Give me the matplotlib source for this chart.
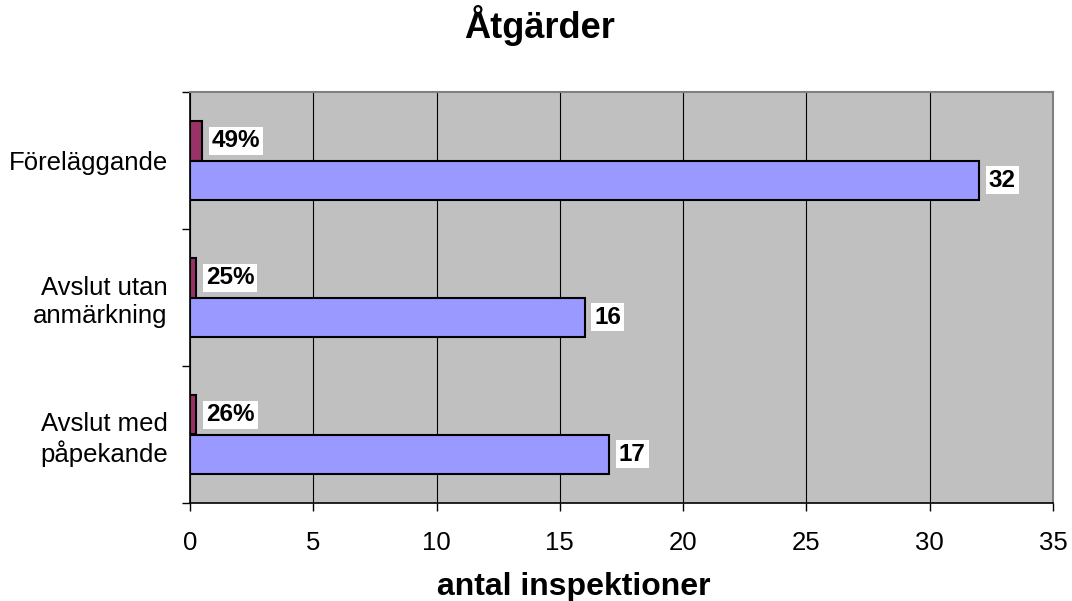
import numpy as np
import matplotlib
matplotlib.use("Agg")
import matplotlib.pyplot as plt

plt.rcParams['font.family'] = ['Liberation Sans', 'DejaVu Sans']

# data
categories = ['Föreläggande', 'Avslut utan\nanmärkning', 'Avslut med\npåpekande']
counts = [32, 16, 17]
shares = [0.49, 0.25, 0.26]   # drawn as fraction on the same axis
share_labels = ['49%', '25%', '26%']

bar_h = 0.285
blue = '#9999FF'
maroon = '#993366'

fig = plt.figure(figsize=(10.72, 6.01), dpi=100)
ax = fig.add_axes([190 / 1072, 1 - 503 / 601, 863 / 1072, 411 / 601])
ax.set_facecolor('#C0C0C0')

y = np.arange(len(categories))
ax.barh(y - bar_h / 2, shares, height=bar_h, color=maroon, edgecolor='black',
        linewidth=1.5, zorder=3)
ax.barh(y + bar_h / 2, counts, height=bar_h, color=blue, edgecolor='black',
        linewidth=1.5, zorder=3)

label_box = dict(boxstyle='square,pad=0.12', facecolor='white', edgecolor='none')
for i in range(len(categories)):
    ax.annotate(share_labels[i], (shares[i], y[i] - bar_h / 2), xytext=(7, 0),
                textcoords='offset points', va='center', ha='left',
                fontsize=17.5, fontweight='bold', bbox=label_box, zorder=4)
    ax.annotate(str(counts[i]), (counts[i], y[i] + bar_h / 2), xytext=(7, 0),
                textcoords='offset points', va='center', ha='left',
                fontsize=17.5, fontweight='bold', bbox=label_box, zorder=4)

ax.set_xlim(0, 35)
ax.set_ylim(len(categories) - 0.5, -0.5)
ax.set_xticks(np.arange(0, 36, 5))
ax.xaxis.grid(True, color='black', linewidth=0.8, zorder=1)
ax.tick_params(axis='x', direction='out', length=6, width=1, pad=14.5, labelsize=18.5)

# y ticks at category borders, labels at category centres
ax.set_yticks(np.arange(len(categories) + 1) - 0.5)
ax.set_yticklabels([])
ax.set_yticks(y, minor=True)
ax.set_yticklabels(categories, minor=True, fontsize=18.5, ha='right', multialignment='right')
ax.tick_params(axis='y', which='major', direction='out', length=6, width=1)
ax.tick_params(axis='y', which='minor', length=0, pad=16)

for s in ['top', 'right']:
    ax.spines[s].set_color('#808080')
    ax.spines[s].set_linewidth(1.5)
for s in ['left', 'bottom']:
    ax.spines[s].set_color('black')
    ax.spines[s].set_linewidth(1.2)

fig.text(540 / 1072, 1 - 38 / 601, 'Åtgärder', ha='center', va='baseline',
         fontsize=26, fontweight='bold')
fig.text(574 / 1072, 1 - 595 / 601, 'antal inspektioner', ha='center', va='baseline',
         fontsize=23, fontweight='bold')

fig.savefig('out.png', dpi=100)
